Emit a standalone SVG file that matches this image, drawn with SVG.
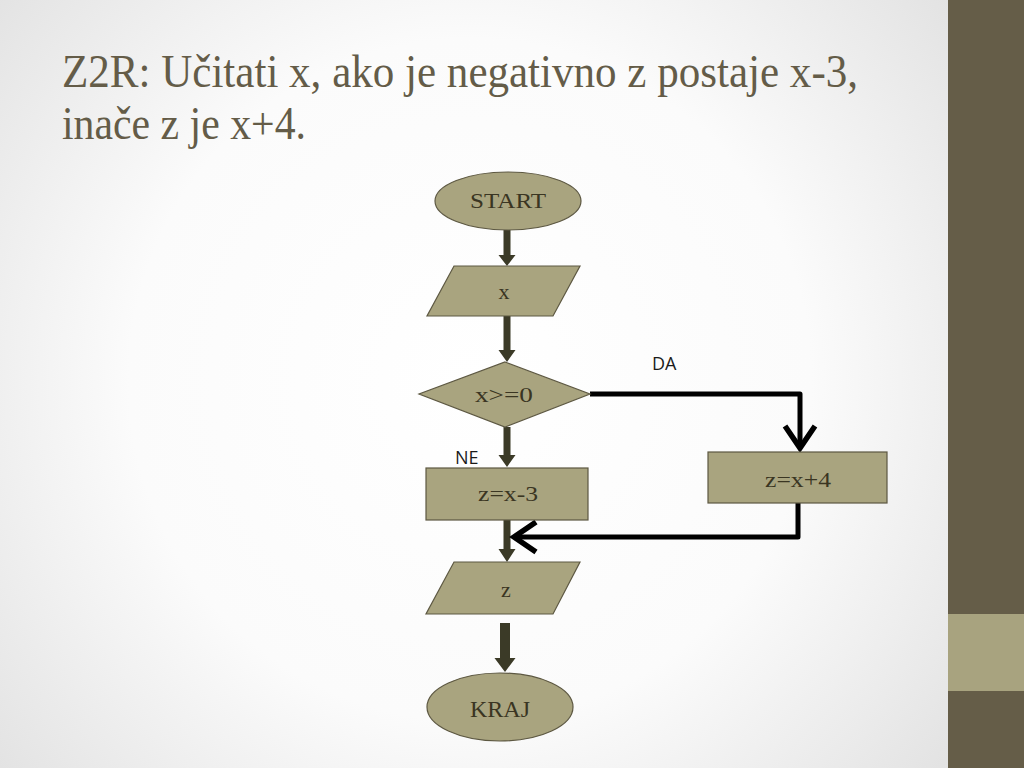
<svg xmlns="http://www.w3.org/2000/svg" width="1024" height="768" viewBox="0 0 1024 768">
<defs>
<radialGradient id="bg" cx="470" cy="380" r="620" gradientUnits="userSpaceOnUse">
<stop offset="0" stop-color="#ffffff"/>
<stop offset="0.55" stop-color="#fbfbfb"/>
<stop offset="1" stop-color="#e2e2e2"/>
</radialGradient>
<marker id="chev" markerUnits="userSpaceOnUse" orient="auto" refX="0" refY="0" markerWidth="60" markerHeight="60" overflow="visible">
<path d="M-22,-15 L0,0 L-22,15" fill="none" stroke="#000" stroke-width="5.5" stroke-linejoin="miter" stroke-linecap="butt"/>
</marker>
</defs>
<style>
.shape{fill:#a9a47f;stroke:#5d5842;stroke-width:1.2}
.lbl{font-family:"Liberation Serif","Times New Roman",serif;font-size:22px;fill:#3a3522;text-anchor:middle}
.side{font-family:"Open Sans","Liberation Sans",sans-serif;font-size:18px;fill:#1a1a1a}
.title{font-family:"Liberation Serif","Times New Roman",serif;font-size:47px;fill:#645c48}
.blk{fill:#3b3a27}
.wire{fill:none;stroke:#000;stroke-width:5;stroke-linejoin:round}
</style>
<rect x="0" y="0" width="1024" height="768" fill="url(#bg)"/>
<g id="sidebar">
<rect x="948" y="0" width="76" height="768" fill="#655d48"/>
<rect x="948" y="614" width="76" height="77" fill="#a8a37f"/>
</g>
<g id="title">
<text class="title" x="62" y="87" textLength="796" lengthAdjust="spacingAndGlyphs">Z2R: Učitati x, ako je negativno z postaje x-3,</text>
<text class="title" x="62" y="139" textLength="244" lengthAdjust="spacingAndGlyphs">inače z je x+4.</text>
</g>
<g id="connectors">
<polygon class="blk" points="503.5,230 510.5,230 510.5,255 515.5,255 507,266 498.5,255 503.5,255"/>
<polygon class="blk" points="503.5,316 510.5,316 510.5,350 515.5,350 507,362 498.5,350 503.5,350"/>
<polygon class="blk" points="503.5,427 510.5,427 510.5,455 515.5,455 507,467 498.5,455 503.5,455"/>
<polygon class="blk" points="503.5,520 510.5,520 510.5,549 515.5,549 507,562 498.5,549 503.5,549"/>
<polygon class="blk" points="500,623 510,623 510,658 515.5,658 505,672 494.5,658 500,658"/>
<path class="wire" d="M590,394 H800 V448" marker-end="url(#chev)"/>
<path class="wire" d="M798,503 V537 H514" marker-end="url(#chev)"/>
<text class="side" x="652" y="370">DA</text>
<text class="side" x="455" y="464">NE</text>
</g>
<g id="start">
<ellipse class="shape" cx="508" cy="201" rx="73" ry="29"/>
<text class="lbl" x="508" y="208" textLength="76" lengthAdjust="spacingAndGlyphs">START</text>
</g>
<g id="input-x">
<polygon class="shape" points="454,266 580,266 553,316 427,316"/>
<text class="lbl" x="504" y="299">x</text>
</g>
<g id="decision">
<polygon class="shape" points="505,362 590,394 505,427 419,394"/>
<text class="lbl" x="504" y="402" textLength="58" lengthAdjust="spacingAndGlyphs">x&gt;=0</text>
</g>
<g id="z-minus">
<rect class="shape" x="426" y="468" width="162" height="52"/>
<text class="lbl" x="508" y="501" textLength="60" lengthAdjust="spacingAndGlyphs">z=x-3</text>
</g>
<g id="z-plus">
<rect class="shape" x="708" y="452" width="179" height="51"/>
<text class="lbl" x="798" y="487" textLength="66" lengthAdjust="spacingAndGlyphs">z=x+4</text>
</g>
<g id="output-z">
<polygon class="shape" points="454,562 580,562 553,614 426,614"/>
<text class="lbl" x="506" y="597">z</text>
</g>
<g id="kraj">
<ellipse class="shape" cx="500" cy="707" rx="73" ry="34"/>
<text class="lbl" x="500" y="717" textLength="60" lengthAdjust="spacingAndGlyphs" style="font-size:24px">KRAJ</text>
</g>
</svg>
